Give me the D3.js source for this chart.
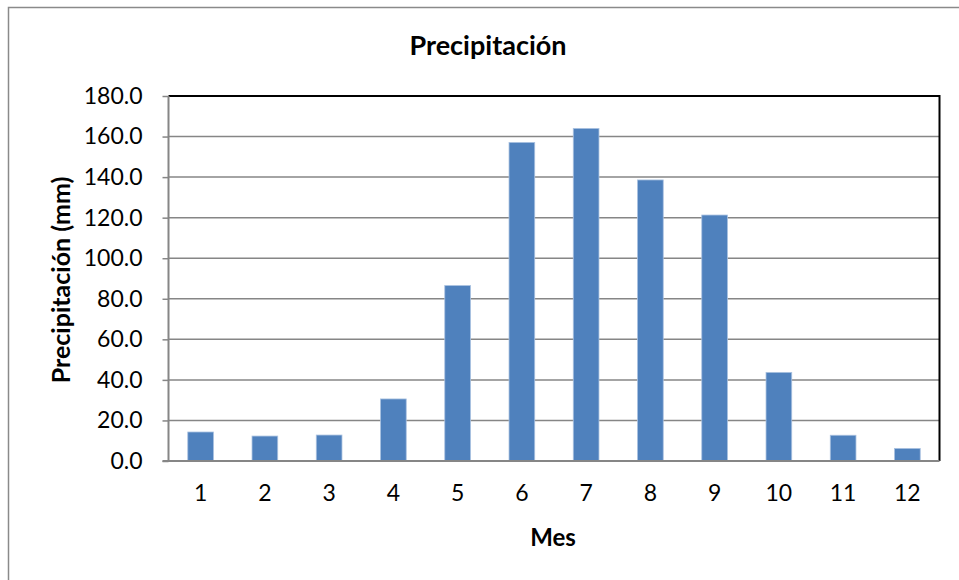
<!DOCTYPE html>
<html><head><meta charset="utf-8">
<script src="https://cdn.jsdelivr.net/npm/d3@7"></script>
<style>html,body{margin:0;padding:0;background:#fff;overflow:hidden}</style>
</head><body>
<svg id="chart" width="959" height="580"></svg>
<script>
const months = ["1","2","3","4","5","6","7","8","9","10","11","12"];
const precip = [14.3, 12.3, 12.8, 30.6, 86.5, 157.1, 164.0, 138.6, 121.3, 43.7, 12.7, 6.2];
const yTicks = [0, 20, 40, 60, 80, 100, 120, 140, 160, 180];
const title = "Precipitación";
const yTitle = "Precipitación (mm)";
const xTitle = "Mes";

const svg = d3.select("#chart");
const font = "Lato, 'Open Sans', sans-serif";
const L = 168.5, R = 939.5, T = 96, B = 461;

// outer chart border
svg.append("rect").attr("x", 8.5).attr("y", 7.5).attr("width", 1000).attr("height", 700)
  .attr("fill", "#fff").attr("stroke", "#8a8a8a").attr("stroke-width", 1.5);

const x = d3.scaleBand().domain(months).range([L, R]).paddingInner(0.6).paddingOuter(0.3);
const y = d3.scaleLinear().domain([0, 180]).range([B, T]);

// gridlines
svg.append("g").selectAll("line").data(yTicks.filter(d => d > 0 && d < 180)).join("line")
  .attr("x1", L).attr("x2", R).attr("y1", d => y(d)).attr("y2", d => y(d))
  .attr("stroke", "#868686").attr("stroke-width", 1.5);

// plot border top/right
svg.append("path").attr("d", `M${L},${y(180)}H${R}V${B}`)
  .attr("fill", "none").attr("stroke", "#000").attr("stroke-width", 2);

// bars
svg.append("g").selectAll("rect").data(precip).join("rect")
  .attr("x", (d, i) => x(months[i])).attr("width", x.bandwidth())
  .attr("y", d => y(d)).attr("height", d => B - y(d))
  .attr("fill", "#4f81bd").attr("stroke", "#a9c1e0").attr("stroke-width", 0.8);

// y axis
const yAxis = d3.axisLeft(y).tickValues(yTicks).tickFormat(d3.format(".1f")).tickSize(6).tickPadding(20);
const gy = svg.append("g").attr("transform", `translate(${L},0)`).call(yAxis);
gy.select(".domain").attr("stroke", "#868686").attr("stroke-width", 2).attr("d", `M0,${T}V${B}`);
gy.selectAll(".tick line").attr("stroke", "#868686").attr("stroke-width", 1.5).attr("x2", -6);
gy.selectAll(".tick text").attr("font-family", font).attr("font-size", 23).attr("fill", "#000");

// x axis
const xAxis = d3.axisBottom(x).tickSize(0).tickPadding(24);
const gx = svg.append("g").attr("transform", `translate(0,${B})`).call(xAxis);
gx.select(".domain").attr("stroke", "#868686").attr("stroke-width", 2).attr("d", `M${L - 6},0H${R}`);
gx.selectAll(".tick text").attr("font-family", font).attr("font-size", 23).attr("fill", "#000");

// titles
svg.append("text").attr("x", 488).attr("y", 55).attr("text-anchor", "middle")
  .attr("font-family", font).attr("font-weight", "bold").attr("font-size", 27).text(title);
svg.append("text").attr("transform", `translate(70,280) rotate(-90)`).attr("text-anchor", "middle")
  .attr("font-family", font).attr("font-weight", "bold").attr("font-size", 25).text(yTitle);
svg.append("text").attr("x", 553).attr("y", 546).attr("text-anchor", "middle")
  .attr("font-family", font).attr("font-weight", "bold").attr("font-size", 24).text(xTitle);
</script>
</body></html>
